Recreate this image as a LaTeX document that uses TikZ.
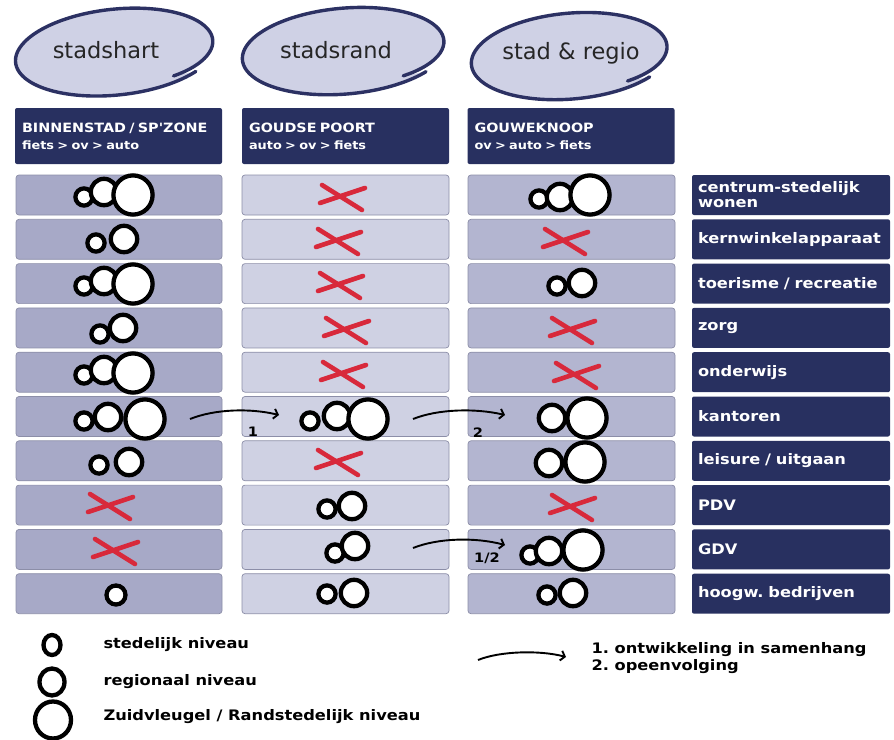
\documentclass[tikz,border=0pt]{standalone}
\usepackage{fontspec}
\setmainfont{DejaVu Sans}
\newfontfamily\widefont{DejaVu Sans}[FakeStretch=1.12]
\usetikzlibrary{arrows.meta}
\frenchspacing
\definecolor{navy}{HTML}{283060}
\definecolor{bubfill}{HTML}{CFD1E5}
\definecolor{bubline}{HTML}{2C3163}
\definecolor{colA}{HTML}{A7A9C7}
\definecolor{colB}{HTML}{CFD1E3}
\definecolor{colC}{HTML}{B3B5D0}
\definecolor{rowline}{HTML}{8C8EA8}
\definecolor{xred}{HTML}{D8293B}
\newcommand{\bubblepath}[5]{%
  \filldraw[bubble] plot[smooth, samples=90, domain=40:412]
   ({#1 + (1-0.12*((\x-40)/372)^8)*(#3*cos(\x)*cos(#5) - #4*sin(\x)*sin(#5))},
    {#2 + (1-0.12*((\x-40)/372)^8)*(#3*cos(\x)*sin(#5) + #4*sin(\x)*cos(#5))});}
\def\radS{8.6}
\def\radM{13.2}
\def\radL{19.6}
\begin{document}
\frenchspacing
\begin{tikzpicture}[x=1pt,y=-1pt,
  bubble/.style={fill=bubfill, draw=bubline, line width=3.4pt, line cap=round},
  bubtext/.style={font=\fontsize{22.5}{26}\selectfont, text=black!85},
  hdrbox/.style={fill=navy, rounded corners=2pt, minimum width=207, minimum height=56,
     text width=193, inner xsep=7, align=left, text=white, font=\widefont\bfseries},
  rowbox/.style={draw=rowline, line width=0.7pt, rounded corners=3pt, minimum width=206, minimum height=40},
  lblbox/.style={fill=navy, rounded corners=2pt, minimum width=198, minimum height=40,
     text width=186, inner xsep=6, align=left, text=white,
     font=\widefont\bfseries\fontsize{14.5}{15}\selectfont},
  ring/.style={draw=black, line width=4.3pt, fill=white},
  xstroke/.style={draw=xred, line width=4.6pt, line cap=round},
  xmark/.pic={\draw[xstroke] (-20,-11) -- (20,14); \draw[xstroke] (-22,7) -- (23,-8);},
  flow/.style={line width=1.9pt, -{Straight Barb[length=4pt,width=10pt]}},
  numlbl/.style={font=\widefont\bfseries\fontsize{13}{15}\selectfont, text=black},
  legtext/.style={font=\widefont\bfseries\fontsize{14.5}{16.5}\selectfont, text=black, anchor=west, align=left}
]
\fill[white] (0,0) rectangle (894,739);
\useasboundingbox (0,0) rectangle (894,739);

% speech bubbles
\bubblepath{116}{52}{101}{43}{-6}
\bubblepath{345}{51}{103}{43}{-5}
\bubblepath{571}{56}{100}{43}{-5}
\node[bubtext] (b1) at (106,50) {stadshart};
\node[bubtext] (b2) at (336,50) {stadsrand};
\node[bubtext] (b3) at (571,53) {stad \& regio};

% header boxes
\node[hdrbox] (h1) at (118.5,136) {\fontsize{12.8}{16}\selectfont BINNENSTAD / SP\char"27 ZONE\\[5pt]\fontsize{11.5}{16}\selectfont fiets > ov > auto};
\node[hdrbox] (h2) at (345.5,136) {\fontsize{12.8}{16}\selectfont GOUDSE POORT\\[5pt]\fontsize{11.5}{16}\selectfont auto > ov > fiets};
\node[hdrbox] (h3) at (571,136) {\fontsize{12.8}{16}\selectfont GOUWEKNOOP\\[5pt]\fontsize{11.5}{16}\selectfont ov > auto > fiets};

% rows
\foreach \i/\t in {1/{centrum-stedelijk\\wonen},2/kernwinkelapparaat,3/{toerisme / recreatie},4/zorg,5/onderwijs,6/kantoren,7/{leisure / uitgaan},8/PDV,9/GDV,10/{hoogw. bedrijven}}{
  \pgfmathsetmacro{\yy}{195+44.3*(\i-1)}
  \node[rowbox, fill=colA] (a\i) at (119,\yy) {};
  \node[rowbox, fill=colB, minimum width=207] (b\i) at (345.5,\yy) {};
  \node[rowbox, fill=colC, minimum width=207] (c\i) at (571.5,\yy) {};
  \node[lblbox] (d\i) at (791,\yy) {\t};
}

% column 1
\draw[ring] (84,197) circle[radius=\radS];
\draw[ring] (104,192) circle[radius=\radM];
\draw[ring] (133,195) circle[radius=\radL];
\draw[ring] (96,243) circle[radius=\radS];
\draw[ring] (124,239) circle[radius=\radM];
\draw[ring] (84,286) circle[radius=\radS];
\draw[ring] (104,281) circle[radius=\radM];
\draw[ring] (133,284) circle[radius=\radL];
\draw[ring] (100,334) circle[radius=\radS];
\draw[ring] (123,328) circle[radius=\radM];
\draw[ring] (84,375) circle[radius=\radS];
\draw[ring] (104,370) circle[radius=\radM];
\draw[ring] (133,373) circle[radius=\radL];
\draw[ring] (84,421) circle[radius=\radS];
\draw[ring] (108,417) circle[radius=\radM];
\draw[ring] (145,419) circle[radius=\radL];
\draw[ring] (99,465) circle[radius=\radS];
\draw[ring] (129,462) circle[radius=\radM];
\pic at (110,505) {xmark};
\pic at (115,550) {xmark};
\draw[ring] (116,595) circle[radius=9.5];

% column 2
\pic at (342,196) {xmark};
\pic at (338,240) {xmark};
\pic at (340,284) {xmark};
\pic at (346,329) {xmark};
\pic at (343,373) {xmark};
\draw[ring] (310,421) circle[radius=\radS];
\draw[ring] (337,416) circle[radius=\radM];
\draw[ring] (368,419) circle[radius=\radL];
\pic at (338,461) {xmark};
\draw[ring] (327,509) circle[radius=\radS];
\draw[ring] (352,506) circle[radius=\radM];
\draw[ring] (335,553) circle[radius=\radS];
\draw[ring] (355,546) circle[radius=\radM];
\draw[ring] (327,594) circle[radius=\radS];
\draw[ring] (354,593) circle[radius=\radM];

% column 3
\draw[ring] (539,199) circle[radius=\radS];
\draw[ring] (560,197) circle[radius=\radM];
\draw[ring] (590,195) circle[radius=\radL];
\pic at (565,240) {xmark};
\draw[ring] (557,286) circle[radius=\radS];
\draw[ring] (582,283) circle[radius=\radM];
\pic at (572,329) {xmark};
\pic at (576,374) {xmark};
\draw[ring] (552,418) circle[radius=\radM];
\draw[ring] (587,418) circle[radius=\radL];
\draw[ring] (549,463) circle[radius=\radM];
\draw[ring] (585,462) circle[radius=\radL];
\pic at (572,506) {xmark};
\draw[ring] (530,555) circle[radius=\radS];
\draw[ring] (549,551) circle[radius=\radM];
\draw[ring] (583,550) circle[radius=\radL];
\draw[ring] (547,595) circle[radius=\radS];
\draw[ring] (573,593) circle[radius=\radM];

% flow arrows
\coordinate (f1s) at (190,419);
\coordinate (f1e) at (279,415);
\coordinate (f2s) at (413,419);
\coordinate (f2e) at (505,415);
\coordinate (f3s) at (413,548);
\coordinate (f3e) at (505,545);
\draw[flow] (f1s) .. controls (215,409) and (250,408) .. (f1e);
\draw[flow] (f2s) .. controls (438,409) and (475,408) .. (f2e);
\draw[flow] (f3s) .. controls (438,538) and (475,537) .. (f3e);
\node[numlbl] (n1) at (253,432) {1};
\node[numlbl] (n2) at (478,433) {2};
\node[numlbl] (n3) at (487,558) {1/2};

% legend
\draw[ring] (52,645) ellipse[x radius=8.5, y radius=10];
\draw[ring] (52,682) ellipse[x radius=12.5, y radius=13.5];
\draw[ring] (53,720) ellipse[x radius=18, y radius=18.5];
\node[legtext] (l1) at (100,645) {stedelijk niveau};
\node[legtext] (l2) at (100,682) {regionaal niveau};
\node[legtext] (l3) at (100,717) {Zuidvleugel / Randstedelijk niveau};
\coordinate (f4s) at (478,660);
\coordinate (f4e) at (566,657);
\draw[flow] (f4s) .. controls (500,651) and (540,650) .. (f4e);
\node[legtext] (l4) at (588,658) {1. ontwikkeling in samenhang\\2. opeenvolging};
\end{tikzpicture}
\end{document}
